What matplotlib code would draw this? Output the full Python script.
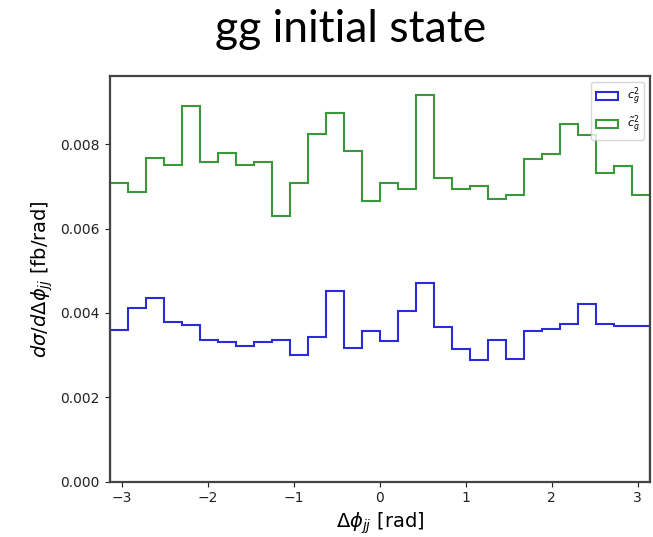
import numpy as np
import matplotlib
matplotlib.use("Agg")
import matplotlib.pyplot as plt

# 30 bins in delta phi_jj, from -pi to pi
n_bins = 30
cg2 = [0.00359, 0.00412, 0.00436, 0.00379, 0.00371, 0.00336, 0.00331, 0.00321,
       0.00332, 0.00336, 0.00301, 0.00344, 0.00453, 0.00318, 0.00357, 0.00333,
       0.00405, 0.00472, 0.00366, 0.00314, 0.00288, 0.00336, 0.00291, 0.00357,
       0.00362, 0.00373, 0.00421, 0.00374, 0.00370, 0.00369]
cg2_tilde = [0.00707, 0.00687, 0.00768, 0.00750, 0.00891, 0.00757, 0.00780, 0.00750,
             0.00757, 0.00630, 0.00709, 0.00824, 0.00874, 0.00784, 0.00666, 0.00707,
             0.00694, 0.00916, 0.00720, 0.00694, 0.00700, 0.00670, 0.00679, 0.00764,
             0.00777, 0.00847, 0.00823, 0.00731, 0.00749, 0.00679]
labels = [r'$c_g^2$', r'$\tilde{c}_g^2$']

edges = np.linspace(-np.pi, np.pi, n_bins + 1)
centers = 0.5 * (edges[:-1] + edges[1:])

fig = plt.figure(figsize=(6.53, 5.37), dpi=100)
ax = fig.add_axes([0.168, 0.103, 0.827, 0.7555])

ax.hist(centers, bins=edges, weights=cg2, histtype='step', color='#2b2bd9',
        linewidth=1.5, label=labels[0])
ax.hist(centers, bins=edges, weights=cg2_tilde, histtype='step', color='#38983a',
        linewidth=1.5, label=labels[1])

ax.set_xlim(-np.pi, np.pi)
ax.set_ylim(0, max(cg2_tilde) * 1.05)
ax.set_yticks([0.0, 0.002, 0.004, 0.006, 0.008])
ax.set_yticklabels(['0.000', '0.002', '0.004', '0.006', '0.008'])
ax.tick_params(labelsize=10, colors='#222222')
for s in ax.spines.values():
    s.set_color('#444444')
    s.set_linewidth(1.6)
    s.set_zorder(3)

ax.set_xlabel(r'$\Delta\phi_{jj}$ [rad]', fontsize=14)
ax.set_ylabel(r'$d\sigma/d\Delta\phi_{jj}$ [fb/rad]', fontsize=14)
ax.legend(loc='upper right', fontsize=8)

fig.text(0.537, 0.945, 'gg initial state', ha='center', va='center',
         fontsize=32, family='Lato')

fig.savefig('out.png', dpi=100)
